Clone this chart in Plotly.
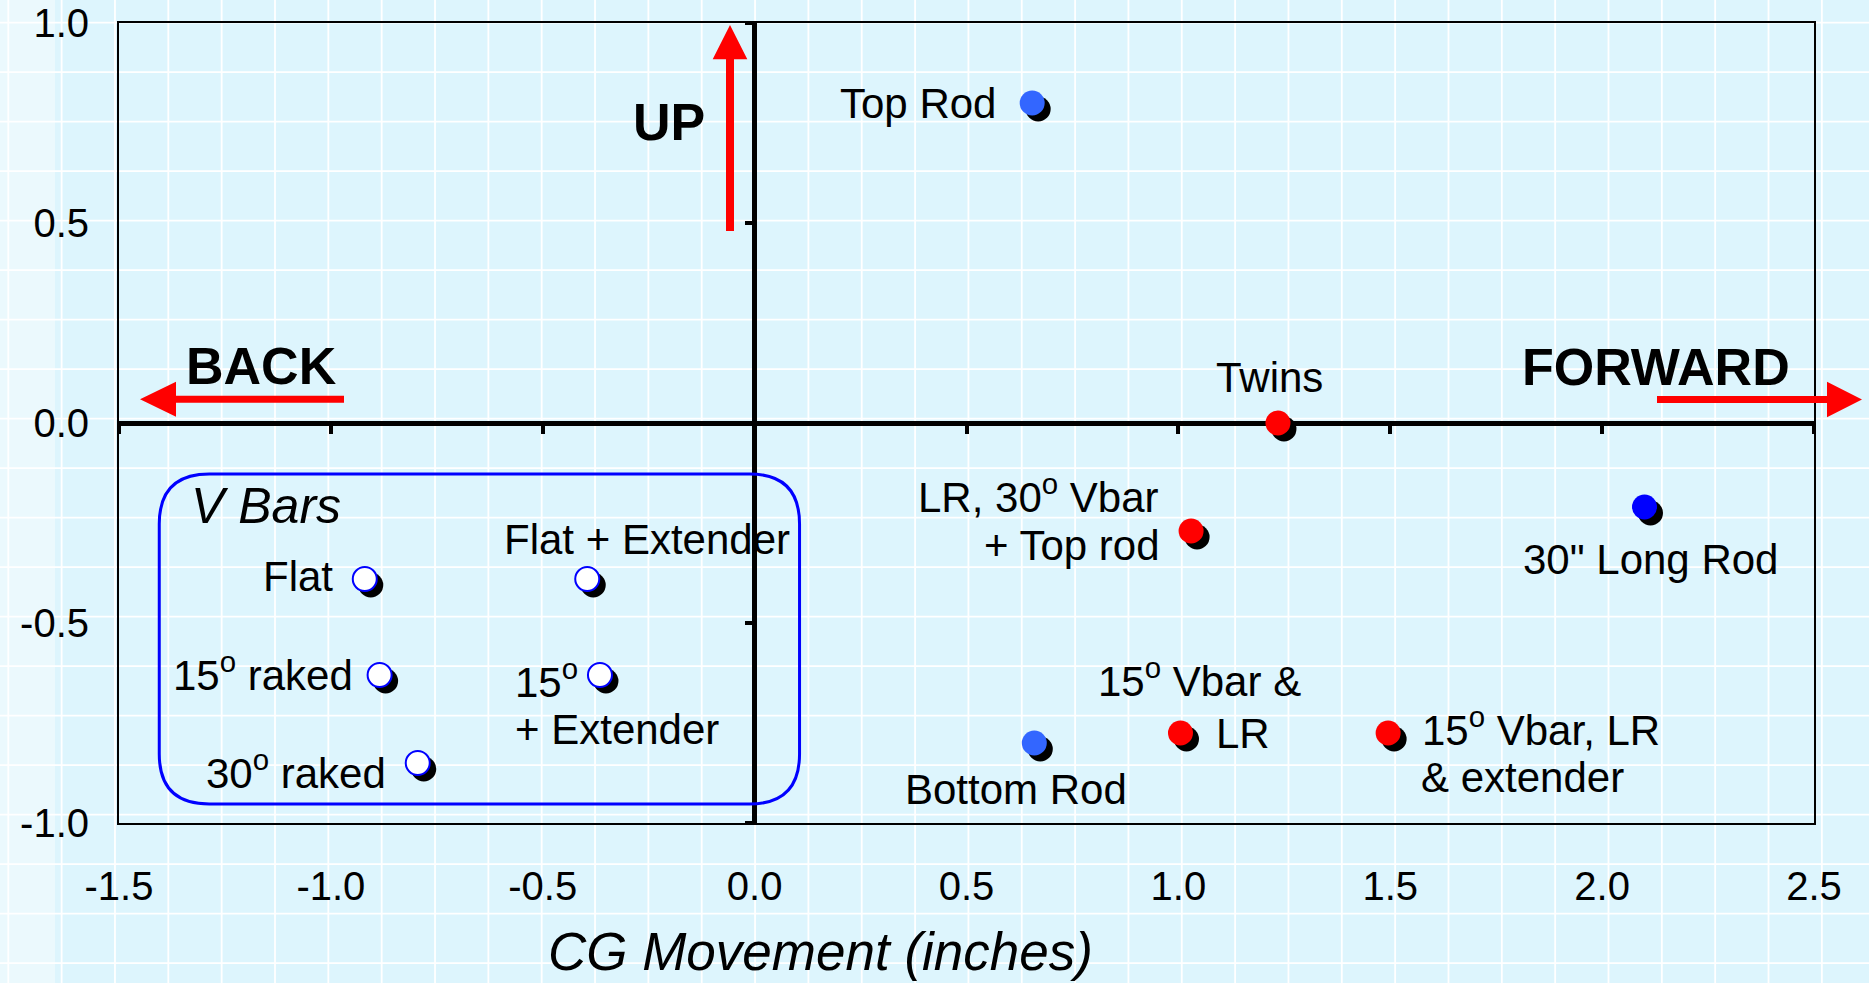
import plotly.graph_objects as go

# ---------------- data ----------------
x_tick_vals = [-1.5, -1.0, -0.5, 0.0, 0.5, 1.0, 1.5, 2.0, 2.5]
x_tick_text = ["-1.5", "-1.0", "-0.5", "0.0", "0.5", "1.0", "1.5", "2.0", "2.5"]
y_tick_vals = [-1.0, -0.5, 0.0, 0.5, 1.0]
y_tick_text = ["-1.0", "-0.5", "0.0", "0.5", "1.0"]

vbar_labels = ["Flat", "Flat + Extender", "15° raked", "15° + Extender", "30° raked"]
vbar_x = [-0.92, -0.395, -0.885, -0.365, -0.795]
vbar_y = [-0.39, -0.39, -0.63, -0.63, -0.85]

rod_labels = ["Top Rod", "Bottom Rod"]
rod_x = [0.655, 0.66]
rod_y = [0.80, -0.80]

long_rod_labels = ['30" Long Rod']
long_rod_x = [2.10]
long_rod_y = [-0.21]

lr_labels = ["Twins", "LR, 30° Vbar + Top rod", "15° Vbar & LR", "15° Vbar, LR & extender"]
lr_x = [1.235, 1.03, 1.005, 1.495]
lr_y = [0.0, -0.27, -0.775, -0.775]

# ---------------- layout constants ----------------
W, H = 1869, 983
ML, MR, MT, MB = 119, 55, 23, 160
PW, PH = W - ML - MR, H - MT - MB
XR = [-1.5, 2.5]
YR = [-1.0, 1.0]
FONT = "Liberation Sans, Arial, sans-serif"
BG = "#ddf5fd"

def px_x(px):
    return (px - ML) / PW

def px_y(py):
    return (H - MB - py) / PH

# marker shadow offset (pixels -> data units)
SH = 6.0
dx = SH * (XR[1] - XR[0]) / PW
dy = SH * (YR[1] - YR[0]) / PH
MS = 25

fig = go.Figure()

groups = [
    (vbar_x, vbar_y, vbar_labels, "white", "#0000ff", 2, MS - 1),
    (rod_x, rod_y, rod_labels, "#3366ff", "#3366ff", 0, MS),
    (long_rod_x, long_rod_y, long_rod_labels, "#0000ff", "#0000ff", 0, MS),
    (lr_x, lr_y, lr_labels, "#ff0000", "#ff0000", 0, MS),
]
for gx, gy, gl, fc, lc, lw, ms in groups:
    fig.add_trace(go.Scatter(
        x=[v + dx for v in gx], y=[v - dy for v in gy], mode="markers",
        marker=dict(size=MS, color="black", line=dict(width=0)),
        hoverinfo="skip", showlegend=False))
for gx, gy, gl, fc, lc, lw, ms in groups:
    fig.add_trace(go.Scatter(
        x=gx, y=gy, mode="markers", text=gl, hoverinfo="text+x+y",
        marker=dict(size=ms, color=fc, line=dict(width=lw, color=lc)),
        showlegend=False))

# dummy trace for the tick-only overlay axes at the zero lines
fig.add_trace(go.Scatter(x=[None], y=[None], xaxis="x2", yaxis="y2",
                         mode="markers", hoverinfo="skip", showlegend=False))

# ---------------- background grid (page decoration) ----------------
shapes = []
shapes.append(dict(type="rect", xref="paper", yref="paper", layer="below",
                   x0=px_x(0), x1=px_x(55), y0=px_y(H), y1=px_y(0),
                   fillcolor="#ebf9fd", line=dict(width=0)))
k = 0
while 8.3 + 53.34 * k < W:
    xv = 8.3 + 53.34 * k
    shapes.append(dict(type="line", xref="paper", yref="paper", layer="below",
                       x0=px_x(xv), x1=px_x(xv), y0=px_y(H), y1=px_y(0),
                       line=dict(color="white", width=1.8)))
    k += 1
k = 0
while 22.7 + 49.5 * k < H:
    yv = 22.7 + 49.5 * k
    shapes.append(dict(type="line", xref="paper", yref="paper", layer="below",
                       x0=px_x(0), x1=px_x(W), y0=px_y(yv), y1=px_y(yv),
                       line=dict(color="white", width=1.8)))
    k += 1

# ---------------- V Bars rounded box ----------------
bx0, bx1, by0, by1 = -1.405, 0.106, -0.9525, -0.1275
rx = 50 * (XR[1] - XR[0]) / PW
ry = 50 * (YR[1] - YR[0]) / PH
box_path = (f"M {bx0+rx},{by1} L {bx1-rx},{by1} Q {bx1},{by1} {bx1},{by1-ry} "
            f"L {bx1},{by0+ry} Q {bx1},{by0} {bx1-rx},{by0} "
            f"L {bx0+rx},{by0} Q {bx0},{by0} {bx0},{by0+ry} "
            f"L {bx0},{by1-ry} Q {bx0},{by1} {bx0+rx},{by1} Z")
shapes.append(dict(type="path", xref="x", yref="y", path=box_path,
                   line=dict(color="#0000ff", width=3)))

# ---------------- red direction arrows ----------------
def poly(points):
    return "M " + " L ".join(f"{px_x(a)},{px_y(b)}" for a, b in points) + " Z"

# forward (right)
fy, fs, fh = 399.5, 3.6, 17.8
fwd = [(1657, fy - fs), (1827, fy - fs), (1827, fy - fh), (1862, fy),
       (1827, fy + fh), (1827, fy + fs), (1657, fy + fs)]
# back (left)
by, bs, bh = 399.2, 3.5, 17.5
back = [(344, by - bs), (176, by - bs), (176, by - bh), (140, by),
        (176, by + bh), (176, by + bs), (344, by + bs)]
# up
ux, us, uh = 730, 4, 17.3
up = [(ux - us, 231), (ux - us, 59.3), (ux - uh, 59.3), (ux, 25),
      (ux + uh, 59.3), (ux + us, 59.3), (ux + us, 231)]
for pts in (fwd, back, up):
    shapes.append(dict(type="path", xref="paper", yref="paper", path=poly(pts),
                       fillcolor="#ff0000", line=dict(width=0)))

# ---------------- text ----------------
LF = 42
ann = []
def lab(text, x, y, xanchor, size=LF, italic=False):
    ann.append(dict(text=text, x=x, y=y, xref="x", yref="y", xanchor=xanchor,
                    yanchor="middle", showarrow=False,
                    font=dict(family=FONT, size=size, color="black",
                              style="italic" if italic else "normal")))

lab("Top Rod", 0.574, 0.80, "right")
lab("Twins", 1.216, 0.115, "center")
lab("LR, 30<sup>o</sup> Vbar", 0.958, -0.1775, "right")
lab("+ Top rod", 0.962, -0.305, "right")
lab('30" Long Rod', 2.113, -0.34, "center")
lab("15<sup>o</sup> Vbar &", 1.049, -0.6375, "center")
lab("LR", 1.084, -0.775, "left")
lab("15<sup>o</sup> Vbar, LR", 1.570, -0.76, "left")
lab("& extender", 1.568, -0.885, "left")
lab("Bottom Rod", 0.617, -0.915, "center")
lab("V Bars", -1.335, -0.2075, "left", size=50, italic=True)
lab("Flat", -0.990, -0.3825, "right")
lab("Flat + Extender", -0.254, -0.29, "center")
lab("15<sup>o</sup> raked", -0.942, -0.6225, "right")
lab("15<sup>o</sup>", -0.570, -0.64, "left")
lab("+ Extender", -0.570, -0.765, "left")
lab("30<sup>o</sup> raked", -0.866, -0.8675, "right")

def plab(text, cx, cy, size, bold=True, italic=False):
    ann.append(dict(text=f"<b>{text}</b>" if bold else text,
                    x=px_x(cx), y=px_y(cy), xref="paper", yref="paper",
                    xanchor="center", yanchor="middle", showarrow=False,
                    font=dict(family=FONT, size=size, color="black",
                              style="italic" if italic else "normal")))

plab("UP", 669, 122, 52)
plab("BACK", 261, 366, 52)
plab("FORWARD", 1656, 367, 52)
plab("CG Movement (inches)", 820, 952, 53, bold=False, italic=True)

axis_common = dict(showgrid=False, color="black", automargin=False,
                   tickfont=dict(family=FONT, size=40, color="black"))

fig.update_layout(
    width=W, height=H,
    margin=dict(l=ML, r=MR, t=MT, b=MB, pad=0, autoexpand=False),
    paper_bgcolor=BG, plot_bgcolor="rgba(0,0,0,0)",
    showlegend=False,
    shapes=shapes, annotations=ann,
    xaxis=dict(range=XR, tickvals=x_tick_vals, ticktext=x_tick_text,
               ticks="", showline=True, mirror=True, linecolor="black",
               linewidth=2, zeroline=True, zerolinecolor="black",
               zerolinewidth=4.5, ticklabelstandoff=27, **axis_common),
    yaxis=dict(range=YR, tickvals=y_tick_vals, ticktext=y_tick_text,
               ticks="", showline=True, mirror=True, linecolor="black",
               linewidth=2, zeroline=True, zerolinecolor="black",
               zerolinewidth=4.5, ticklabelstandoff=20, **axis_common),
    xaxis2=dict(overlaying="x", anchor="free", position=0.5, side="bottom",
                range=XR, tickvals=x_tick_vals, ticks="outside", ticklen=10,
                tickwidth=4, tickcolor="black", showticklabels=False,
                showline=False, showgrid=False, zeroline=False, automargin=False),
    yaxis2=dict(overlaying="y", anchor="free", position=0.375, side="left",
                range=YR, tickvals=y_tick_vals, ticks="outside", ticklen=10,
                tickwidth=4, tickcolor="black", showticklabels=False,
                showline=False, showgrid=False, zeroline=False, automargin=False),
)

fig.write_html("out.html",
               config={"displayModeBar": False},
               post_script="document.body.style.margin='0';"
                           "document.body.style.overflow='hidden';")
